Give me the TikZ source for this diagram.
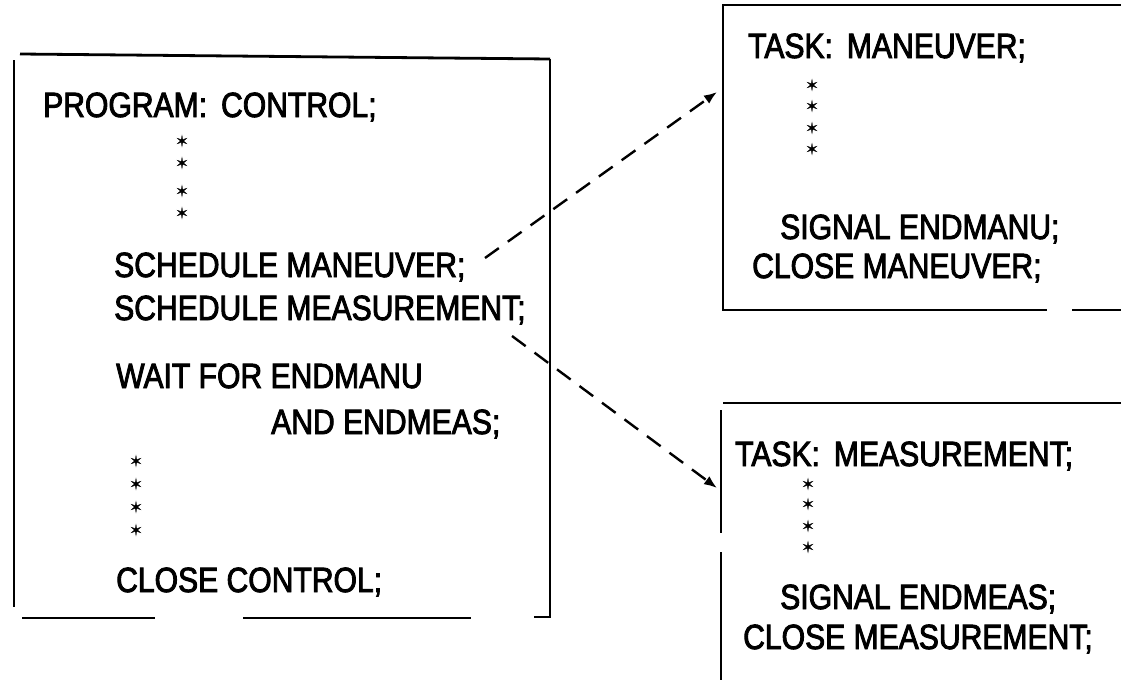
\documentclass[tikz,border=0pt]{standalone}
\usepackage{fontspec}
\newfontfamily\codefont{Liberation Sans}[FakeStretch=0.86,FakeBold=2.5]
\newfontfamily\starfont{DejaVu Sans}[FakeBold=1.5]
\usetikzlibrary{arrows.meta}
\tikzset{
  codetext/.style={anchor=base west, inner sep=0pt, font=\codefont\fontsize{35}{35}\selectfont},
  starmark/.style={inner sep=0pt, font=\starfont\fontsize{15}{15}\selectfont},
  boxline/.style={line width=2.8pt},
  flowarrow/.style={line width=2.4pt, dash pattern=on 17pt off 11pt, -{Latex[length=13pt,width=10pt]}}
}
\begin{document}
\begin{tikzpicture}[x=1pt,y=-1pt]
\useasboundingbox (0,0) rectangle (1121,680);

% ---- left box (program CONTROL) ----
\draw[boxline] (20,54) -- (550,59);
\draw[boxline] (14,60) -- (14,607);
\draw[boxline] (550,59) -- (550,617) -- (534,617);
\draw[boxline] (22,618) -- (155,618);
\draw[boxline] (243,618) -- (471,618);

\node[codetext] (prog) at (43,117) {PROGRAM:\hspace{14pt}CONTROL;};
\node[starmark] (ls1) at (182,141) {✶};
\node[starmark] (ls2) at (182,163) {✶};
\node[starmark] (ls3) at (182,191) {✶};
\node[starmark] (ls4) at (182,213) {✶};
\node[codetext] (sched1) at (114,277) {SCHEDULE MANEUVER;};
\node[codetext] (sched2) at (114,320) {SCHEDULE MEASUREMENT;};
\node[codetext] (wait) at (116,388) {WAIT FOR ENDMANU};
\node[codetext] (andm) at (271,434) {AND ENDMEAS;};
\node[starmark] (ls5) at (136,461) {✶};
\node[starmark] (ls6) at (136,484) {✶};
\node[starmark] (ls7) at (136,507) {✶};
\node[starmark] (ls8) at (136,530) {✶};
\node[codetext] (closec) at (116,592) {CLOSE CONTROL;};

% ---- top right box (task MANEUVER) ----
\draw[boxline] (1121,5) -- (723,5) -- (723,310) -- (1047,310);
\draw[boxline] (1072,310) -- (1121,310);
\node[codetext] (task1) at (748,58) {TASK:\hspace{14pt}MANEUVER;};
\node[starmark] (rs1) at (812,85) {✶};
\node[starmark] (rs2) at (812,106) {✶};
\node[starmark] (rs3) at (812,128) {✶};
\node[starmark] (rs4) at (812,149) {✶};
\node[codetext] (sig1) at (780,239) {SIGNAL ENDMANU;};
\node[codetext] (close1) at (752,278) {CLOSE MANEUVER;};

% ---- bottom right box (task MEASUREMENT) ----
\draw[boxline] (723,403) -- (1121,403);
\draw[boxline] (721,410) -- (721,533);
\draw[boxline] (721,552) -- (721,680);
\node[codetext] (task2) at (735,466) {TASK:\hspace{14pt}MEASUREMENT;};
\node[starmark] (bs1) at (808,484) {✶};
\node[starmark] (bs2) at (808,504) {✶};
\node[starmark] (bs3) at (808,526) {✶};
\node[starmark] (bs4) at (808,547) {✶};
\node[codetext] (sig2) at (780,609) {SIGNAL ENDMEAS;};
\node[codetext] (close2) at (743,649) {CLOSE MEASUREMENT;};

% ---- connectors ----
\coordinate (a1s) at (485,258);
\coordinate (a1e) at (717,92);
\coordinate (a2s) at (512,336);
\coordinate (a2e) at (717,488);
\draw[flowarrow] (a1s) -- (a1e);
\draw[flowarrow] (a2s) -- (a2e);
\end{tikzpicture}
\end{document}
